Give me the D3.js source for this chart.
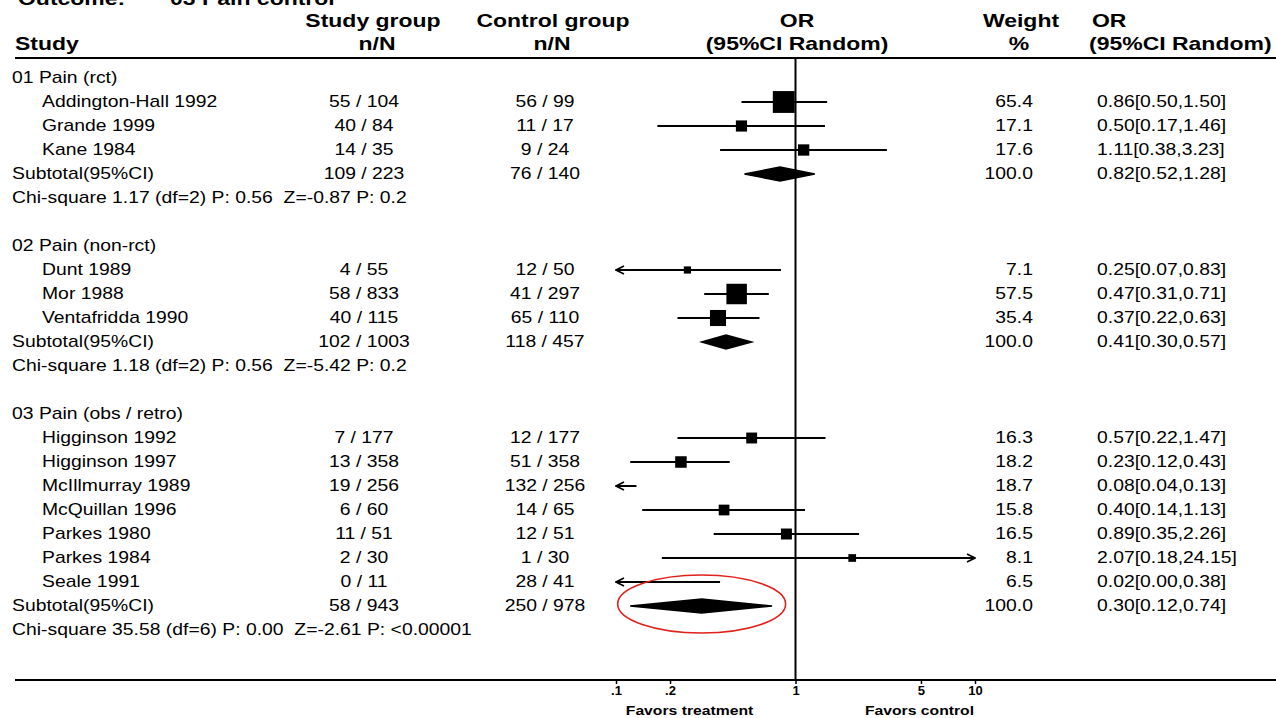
<!DOCTYPE html>
<html>
<head>
<meta charset="utf-8">
<script src="https://d3js.org/d3.v7.min.js"></script>
<style>
  body { margin: 0; background: #fff; }
  text { font-family: "Liberation Sans", Arial, sans-serif; fill: #000; white-space: pre; }
  .hd { font-weight: bold; font-size: 19px; }
  .bd { font-size: 16px; }
  .tk { font-size: 13px; font-weight: bold; }
</style>
</head>
<body>
<script>
var width = 1276, height = 718;

// data
var groupLabels = ["01 Pain (rct)", "02 Pain (non-rct)", "03 Pain (obs / retro)"];
var studyNames = ["Addington-Hall 1992", "Grande 1999", "Kane 1984",
  "Dunt 1989", "Mor 1988", "Ventafridda 1990",
  "Higginson 1992", "Higginson 1997", "McIllmurray 1989", "McQuillan 1996", "Parkes 1980", "Parkes 1984", "Seale 1991"];
var studyGroupOf = [0, 0, 0, 1, 1, 1, 2, 2, 2, 2, 2, 2, 2];
var studyN = ["55 / 104", "40 / 84", "14 / 35", "4 / 55", "58 / 833", "40 / 115",
  "7 / 177", "13 / 358", "19 / 256", "6 / 60", "11 / 51", "2 / 30", "0 / 11"];
var controlN = ["56 / 99", "11 / 17", "9 / 24", "12 / 50", "41 / 297", "65 / 110",
  "12 / 177", "51 / 358", "132 / 256", "14 / 65", "12 / 51", "1 / 30", "28 / 41"];
var orEst = [0.86, 0.50, 1.11, 0.25, 0.47, 0.37, 0.57, 0.23, 0.08, 0.40, 0.89, 2.07, 0.02];
var orLow = [0.50, 0.17, 0.38, 0.07, 0.31, 0.22, 0.22, 0.12, 0.04, 0.14, 0.35, 0.18, 0.00];
var orHigh = [1.50, 1.46, 3.23, 0.83, 0.71, 0.63, 1.47, 0.43, 0.13, 1.13, 2.26, 24.15, 0.38];
var weights = [65.4, 17.1, 17.6, 7.1, 57.5, 35.4, 16.3, 18.2, 18.7, 15.8, 16.5, 8.1, 6.5];

var subStudyN = ["109 / 223", "102 / 1003", "58 / 943"];
var subControlN = ["76 / 140", "118 / 457", "250 / 978"];
var subEst = [0.82, 0.41, 0.30];
var subLow = [0.52, 0.30, 0.12];
var subHigh = [1.28, 0.57, 0.74];
var subWeight = [100.0, 100.0, 100.0];
var hetero = ["Chi-square 1.17 (df=2) P: 0.56  Z=-0.87 P: 0.2",
  "Chi-square 1.18 (df=2) P: 0.56  Z=-5.42 P: 0.2",
  "Chi-square 35.58 (df=6) P: 0.00  Z=-2.61 P: <0.00001"];

var tickValues = [0.1, 0.2, 1, 5, 10];
var tickLabels = [".1", ".2", "1", "5", "10"];

// build rows
var rows = [];
groupLabels.forEach(function (g, gi) {
  rows.push({type: 'group', label: g});
  studyNames.forEach(function (s, i) {
    if (studyGroupOf[i] !== gi) return;
    rows.push({type: 'study', label: s, sn: studyN[i], cn: controlN[i],
      est: orEst[i], lo: orLow[i], hi: orHigh[i], w: weights[i]});
  });
  rows.push({type: 'sub', label: 'Subtotal(95%CI)', sn: subStudyN[gi], cn: subControlN[gi],
    est: subEst[gi], lo: subLow[gi], hi: subHigh[gi], w: subWeight[gi]});
  rows.push({type: 'het', label: hetero[gi]});
  if (gi < groupLabels.length - 1) rows.push({type: 'blank'});
});
rows.forEach(function (r, i) { r.i = i; });

var SX = 1.21;
var svg = d3.select('body').append('svg').attr('width', width).attr('height', height);

var x = d3.scaleLog().domain([0.1, 10]).range([616, 975]);
var y = d3.scaleLinear().domain([0, rows.length - 1]).range([78, 630]);
var size = d3.scaleSqrt().domain([0, 100]).range([0, 27]);
var f2 = d3.format('.2f'), f1 = d3.format('.1f');

function txt(g, px, py, s, anchor, cls) {
  return g.append('text')
    .attr('class', cls)
    .attr('text-anchor', anchor || 'start')
    .attr('transform', 'translate(' + px + ',' + py + ') scale(' + SX + ',1)')
    .text(s);
}

// arrow markers
var defs = svg.append('defs');
defs.append('marker').attr('id', 'arr').attr('viewBox', '0 0 10 10')
  .attr('refX', 9).attr('refY', 5).attr('markerWidth', 5).attr('markerHeight', 5)
  .attr('markerUnits', 'strokeWidth').attr('orient', 'auto-start-reverse')
  .append('path').attr('d', 'M1,1L9,5L1,9').attr('fill', 'none').attr('stroke', '#000').attr('stroke-width', 1.6);

// header
var hd = svg.append('g');
txt(hd, 18, 5, 'Outcome:', 'start', 'hd');
txt(hd, 170, 5, '03 Pain control', 'start', 'hd');
txt(hd, 373, 27, 'Study group', 'middle', 'hd');
txt(hd, 553, 27, 'Control group', 'middle', 'hd');
txt(hd, 797, 27, 'OR', 'middle', 'hd');
txt(hd, 1021, 27, 'Weight', 'middle', 'hd');
txt(hd, 1092, 27, 'OR', 'start', 'hd');
txt(hd, 15, 50, 'Study', 'start', 'hd');
txt(hd, 377, 50, 'n/N', 'middle', 'hd');
txt(hd, 552, 50, 'n/N', 'middle', 'hd');
txt(hd, 797, 50, '(95%CI Random)', 'middle', 'hd');
txt(hd, 1019, 50, '%', 'middle', 'hd');
txt(hd, 1089, 50, '(95%CI Random)', 'start', 'hd');

svg.append('line').attr('x1', 15).attr('x2', width).attr('y1', 58).attr('y2', 58)
  .attr('stroke', '#000').attr('stroke-width', 2);

// line of no effect
svg.append('line').attr('x1', x(1)).attr('x2', x(1)).attr('y1', 58).attr('y2', 680)
  .attr('stroke', '#000').attr('stroke-width', 2);

// text columns
var body = svg.append('g');
rows.forEach(function (r) {
  var py = y(r.i) + 5;
  if (r.type === 'group') txt(body, 12, py, r.label, 'start', 'bd');
  if (r.type === 'het') txt(body, 12, py, r.label, 'start', 'bd');
  if (r.type === 'study' || r.type === 'sub') {
    txt(body, r.type === 'study' ? 42 : 12, py, r.label, 'start', 'bd');
    txt(body, 364, py, r.sn, 'middle', 'bd');
    txt(body, 545, py, r.cn, 'middle', 'bd');
    txt(body, 1033, py, f1(r.w), 'end', 'bd');
    txt(body, 1097, py, f2(r.est) + '[' + f2(r.lo) + ',' + f2(r.hi) + ']', 'start', 'bd');
  }
});

// study CI lines + squares
var lo = x.domain()[0], hi = x.domain()[1];
var studyRows = rows.filter(function (r) { return r.type === 'study'; });
var plot = svg.append('g');
plot.selectAll('line.ci').data(studyRows).join('line')
  .attr('class', 'ci')
  .attr('x1', function (d) { return d.lo < lo ? x(lo) : x(d.lo); })
  .attr('x2', function (d) { return d.hi > hi ? x(hi) : x(d.hi); })
  .attr('y1', function (d) { return y(d.i); })
  .attr('y2', function (d) { return y(d.i); })
  .attr('stroke', '#000').attr('stroke-width', 2)
  .attr('marker-start', function (d) { return d.lo < lo ? 'url(#arr)' : null; })
  .attr('marker-end', function (d) { return d.hi > hi ? 'url(#arr)' : null; });

plot.selectAll('rect.pt').data(studyRows.filter(function (d) { return d.est >= lo && d.est <= hi; }))
  .join('rect')
  .attr('class', 'pt')
  .attr('x', function (d) { return x(d.est) - size(d.w) / 2; })
  .attr('y', function (d) { return y(d.i) - size(d.w) / 2; })
  .attr('width', function (d) { return size(d.w); })
  .attr('height', function (d) { return size(d.w); })
  .attr('fill', '#000');

// subtotal diamonds
var subRows = rows.filter(function (r) { return r.type === 'sub'; });
plot.selectAll('path.dia').data(subRows).join('path')
  .attr('class', 'dia')
  .attr('d', function (d) {
    var c = y(d.i);
    return 'M' + x(d.lo) + ',' + c + 'L' + x(d.est) + ',' + (c - 7) + 'L' + x(d.hi) + ',' + c +
      'L' + x(d.est) + ',' + (c + 7) + 'Z';
  })
  .attr('fill', '#000').attr('stroke', '#000').attr('stroke-width', 1.5);

// highlight ellipse around the last subtotal
var last = subRows[subRows.length - 1];
svg.append('ellipse')
  .attr('cx', x(last.est)).attr('cy', y(last.i) - 2)
  .attr('rx', 84).attr('ry', 29)
  .attr('fill', 'none').attr('stroke', '#e0201a').attr('stroke-width', 1.6);

// bottom axis
svg.append('line').attr('x1', 15).attr('x2', width).attr('y1', 680).attr('y2', 680)
  .attr('stroke', '#000').attr('stroke-width', 2);
var axis = svg.append('g').attr('transform', 'translate(0,680)')
  .call(d3.axisBottom(x).tickValues(tickValues)
    .tickFormat(function (d, i) { return tickLabels[i]; })
    .tickSize(4).tickPadding(2));
axis.select('.domain').remove();
axis.selectAll('.tick line').attr('stroke', '#000').attr('stroke-width', 1.5);
axis.selectAll('.tick text').attr('class', 'tk').attr('font-family', null).attr('font-size', null);

txt(svg, x(1) - 106, 715, 'Favors treatment', 'middle', 'tk');
txt(svg, x(1) + 124, 715, 'Favors control', 'middle', 'tk');
</script>
</body>
</html>
